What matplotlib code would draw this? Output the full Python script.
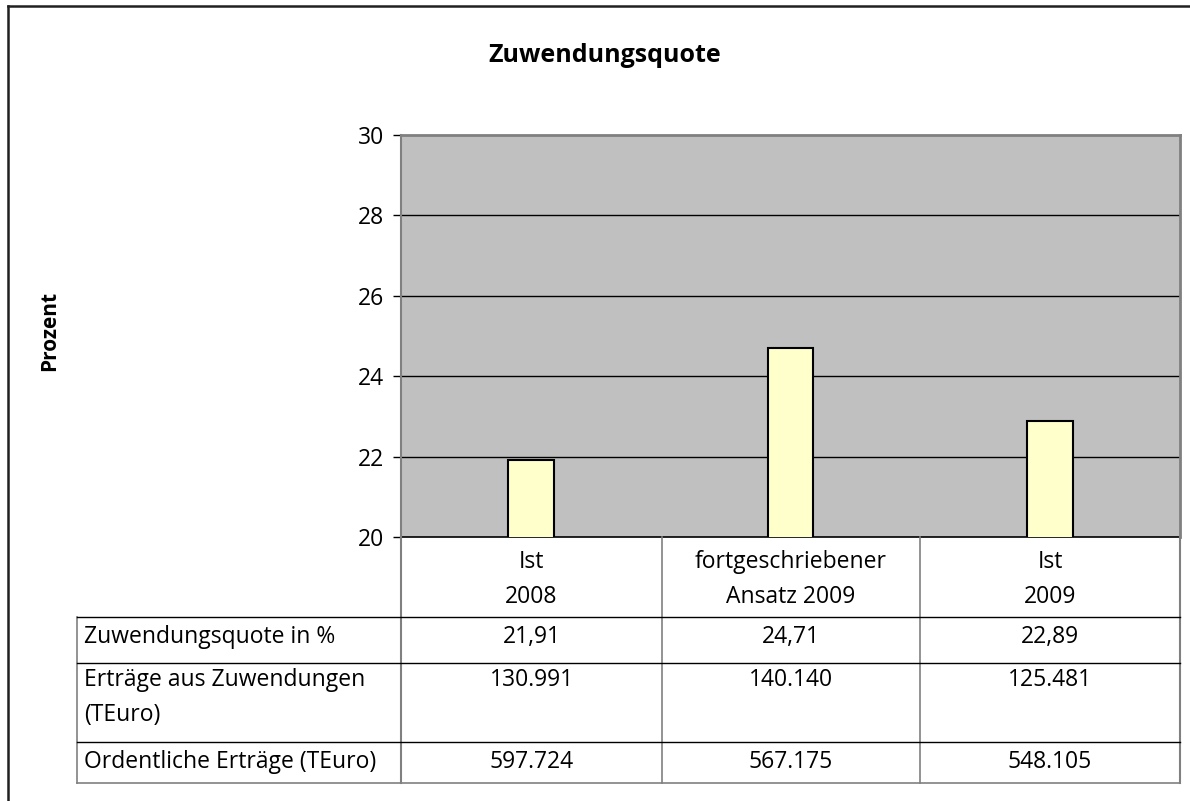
import matplotlib
matplotlib.use("Agg")
import matplotlib.pyplot as plt
from matplotlib.lines import Line2D

plt.rcParams['font.family'] = ['Open Sans', 'DejaVu Sans']

title = "Zuwendungsquote"
ylabel = "Prozent"
categories = ["Ist\n2008", "fortgeschriebener\nAnsatz 2009", "Ist\n2009"]
quote = [21.91, 24.71, 22.89]
row_labels = ["Zuwendungsquote in %", "Erträge aus Zuwendungen\n(TEuro)", "Ordentliche Erträge (TEuro)"]
row_quote = ["21,91", "24,71", "22,89"]
row_ertraege_zuw = ["130.991", "140.140", "125.481"]
row_ertraege_ord = ["597.724", "567.175", "548.105"]
yticks = [20, 22, 24, 26, 28, 30]

W, H = 1190, 801
fig = plt.figure(figsize=(W / 100, H / 100), dpi=100)

# pixel geometry
px_l, px_r, px_t, px_b = 401, 1180, 135, 537
ax = fig.add_axes([px_l / W, 1 - px_b / H, (px_r - px_l) / W, (px_b - px_t) / H])
ax.set_facecolor('#C0C0C0')
x = list(range(len(categories)))
ax.bar(x, quote, width=0.175, bottom=0, color='#FFFFCC', edgecolor='black', linewidth=1.5, zorder=3)
ax.set_xlim(-0.5, len(categories) - 0.5)
ax.set_ylim(20, 30)
ax.set_yticks(yticks)
ax.set_yticklabels([str(t) for t in yticks], fontsize=16.5)
ax.set_xticks([])
for t in yticks[1:-1]:
    ax.axhline(t, color='black', linewidth=1, zorder=2)
ax.tick_params(axis='y', length=6, width=1, color='black', pad=6)
ax.spines['left'].set_color('#808080')
ax.spines['left'].set_linewidth(1.5)
ax.spines['bottom'].set_color('black')
ax.spines['bottom'].set_linewidth(1.2)
ax.spines['top'].set_color('#808080')
ax.spines['top'].set_linewidth(2)
ax.spines['right'].set_color('#808080')
ax.spines['right'].set_linewidth(2)

# overlay in pixel coords for frame, table and labels
ov = fig.add_axes([0, 0, 1, 1], facecolor='none')
ov.set_xlim(0, W)
ov.set_ylim(H, 0)
ov.axis('off')

def line(x0, y0, x1, y1, c='black', lw=1.0):
    ov.add_line(Line2D([x0, x1], [y0, y1], color=c, linewidth=lw))

# outer frame
line(8, 6, W, 6, '#202020', 1.8)
line(8, 6, 8, H, '#202020', 1.8)

# title & ylabel
ov.text(605, 55, title, ha='center', va='center', fontsize=18, fontweight='bold')
ov.text(50, 331, ylabel, ha='center', va='center', rotation=90, fontsize=15, fontweight='bold')

# table geometry
col_x = [px_l, 662, 920, px_r]
tab_l = 77
row_y = [617, 663, 742, 783]

# vertical lines
line(px_l, px_b, px_l, row_y[-1], '#808080', 1.5)
for cx in col_x[1:-1]:
    line(cx, px_b, cx, row_y[-1], '#808080', 1.2)
line(px_r, px_b, px_r, row_y[-1], '#808080', 1.5)
line(tab_l, row_y[0], tab_l, row_y[-1], '#808080', 1.2)
# horizontal lines
for ry in row_y[:-1]:
    line(tab_l, ry, px_r, ry, 'black', 1.0)
line(tab_l, row_y[-1], px_r, row_y[-1], '#808080', 1.2)

fs = 16.5
lstep = 35

def mtext(xx, yc, s, ha):
    for k, part in enumerate(s.split('\n')):
        ov.text(xx, yc + k * lstep, part, ha=ha, va='center', fontsize=fs)

# header category labels
for i, cat in enumerate(categories):
    cx = (col_x[i] + col_x[i + 1]) / 2
    mtext(cx, 562, cat, 'center')

# rows
rows = [row_quote, row_ertraege_zuw, row_ertraege_ord]
row_centers = [637, 680, 762]
for r, (lab, vals) in enumerate(zip(row_labels, rows)):
    yc = row_centers[r]
    mtext(84, yc, lab, 'left')
    for i, v in enumerate(vals):
        cx = (col_x[i] + col_x[i + 1]) / 2
        mtext(cx, yc, v, 'center')

fig.savefig('out.png', dpi=100)
